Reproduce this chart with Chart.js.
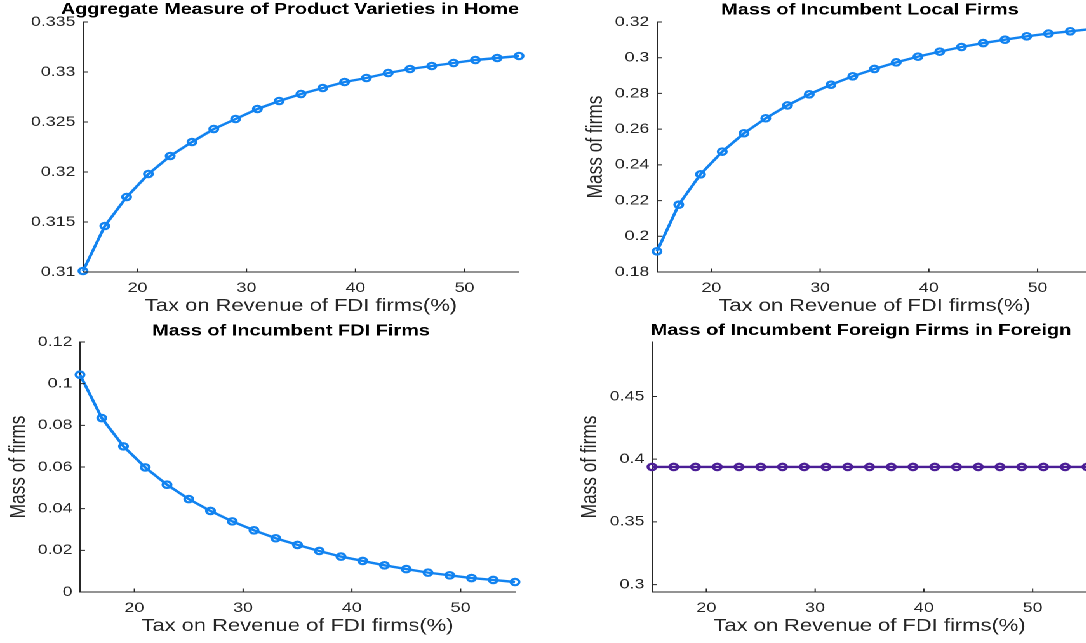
<!DOCTYPE html>
<html>
<head>
<meta charset="utf-8">
<script src="https://cdn.jsdelivr.net/npm/chart.js@4"></script>
<style>
  html, body { margin: 0; padding: 0; overflow: hidden; background: #fff; width: 1086px; height: 643px; }
  /* the reference figure was stretched sideways, so the whole stage is too */
  #stage { position: absolute; left: 0; top: 0; width: 880px; height: 643px; transform: scaleX(1.27); transform-origin: 0 0; }
  #stage canvas { position: absolute; }
</style>
</head>
<body>
<div id="stage">
  <canvas id="varieties"></canvas>
  <canvas id="local"></canvas>
  <canvas id="fdi"></canvas>
  <canvas id="foreign"></canvas>
</div>
<script>
// tax rate on FDI revenue (%)
const taxRates = [15, 17, 19, 21, 23, 25, 27, 29, 31, 33, 35, 37, 39, 41, 43, 45, 47, 49, 51, 53, 55];

const varietiesHome = [0.3101, 0.3146, 0.3175, 0.3198, 0.3216, 0.3230, 0.3243, 0.3253, 0.3263, 0.3271, 0.3278,
  0.3284, 0.3290, 0.3294, 0.3299, 0.3303, 0.3306, 0.3309, 0.3312, 0.3314, 0.3316];
const localFirms = [0.1916, 0.2177, 0.2347, 0.2474, 0.2577, 0.2661, 0.2733, 0.2795, 0.2849, 0.2896, 0.2937,
  0.2974, 0.3006, 0.3034, 0.3060, 0.3082, 0.3101, 0.3120, 0.3135, 0.3148, 0.3161];
const fdiFirms = [0.1043, 0.0835, 0.0699, 0.0598, 0.0515, 0.0446, 0.0389, 0.0339, 0.0296, 0.0258, 0.0226,
  0.0197, 0.0170, 0.0149, 0.0128, 0.0110, 0.0093, 0.0080, 0.0067, 0.0058, 0.0048];
const foreignFirms = [0.3938, 0.3938, 0.3938, 0.3938, 0.3938, 0.3938, 0.3938, 0.3938, 0.3938, 0.3938, 0.3938,
  0.3938, 0.3938, 0.3938, 0.3938, 0.3938, 0.3938, 0.3938, 0.3938, 0.3938, 0.3938];

// ticks and limits
const xTicks = [20, 30, 40, 50];
const xRange = [15, 55];
const varietiesTicks = [0.31, 0.315, 0.32, 0.325, 0.33, 0.335];
const varietiesRange = [0.31, 0.335];
const localTicks = [0.18, 0.2, 0.22, 0.24, 0.26, 0.28, 0.3, 0.32];
const localRange = [0.18, 0.32];
const fdiTicks = [0, 0.02, 0.04, 0.06, 0.08, 0.1, 0.12];
const fdiRange = [0, 0.12];
const foreignTicks = [0.3, 0.35, 0.4, 0.45];
const foreignRange = [0.2941, 0.4934];

const X_LABEL = 'Tax on Revenue of FDI firms(%)';
const Y_LABEL = 'Mass of firms';

const STRETCH = 1.27;
const AXIS = '#262626';
const TITLE_SIZE = 15.7;
const LABEL_SIZE = 17.3;
const TICK_SIZE = 14;
const BLUE = '#1283f0';
const PURPLE = '#4b1e96';

Chart.defaults.font.family = "'Liberation Sans', Arial, Helvetica, sans-serif";

// matlab style ticks that point into the plot
const innerTicks = {
  id: 'innerTicks',
  afterDatasetsDraw(chart) {
    const { ctx, chartArea: a, scales: { x, y } } = chart;
    ctx.save();
    ctx.strokeStyle = AXIS;
    ctx.lineWidth = 1;
    ctx.beginPath();
    x.ticks.forEach(t => {
      const px = x.getPixelForValue(t.value);
      ctx.moveTo(px, a.bottom);
      ctx.lineTo(px, a.bottom - 3.5);
    });
    y.ticks.forEach(t => {
      const py = y.getPixelForValue(t.value);
      ctx.moveTo(a.left, py);
      ctx.lineTo(a.left + 4, py);
    });
    ctx.stroke();
    ctx.restore();
  }
};

const fmt = v => String(Number(Number(v).toFixed(4)));

// area = [left, right, top, bottom] in screen px, canvas left is in stage px
function panel(id, o) {
  const cl = o.canvasLeft, ct = o.canvasTop, h = o.height;
  const areaL = o.area[0] / STRETCH - cl;
  const areaR = o.area[1] / STRETCH - cl;
  const titleC = o.titleX / STRETCH - cl;
  const padL = 2 * titleC - areaR;
  const w = Math.ceil(areaR + 12);
  const padR = w - areaR;
  const tLine = TITLE_SIZE * 1.2;
  const tTop = o.titleMid - ct - tLine / 2;
  const tBottom = o.area[2] - ct - tLine - tTop;
  const xAxisH = h - (o.area[3] - ct);
  const xTitlePad = h - (o.xTitleMid - ct) - LABEL_SIZE * 0.6;

  const canvas = document.getElementById(id);
  canvas.width = w;
  canvas.height = h;
  canvas.style.left = cl + 'px';
  canvas.style.top = ct + 'px';

  const yTitle = o.yTitleX == null ? { display: false } : {
    display: true, text: Y_LABEL, color: AXIS,
    font: { size: LABEL_SIZE, lineHeight: 1.2 },
    padding: { top: o.yTitleX / STRETCH - cl - padL - LABEL_SIZE * 0.6, bottom: 0 }
  };

  new Chart(canvas, {
    type: 'line',
    data: {
      datasets: [{
        data: taxRates.map((t, i) => ({ x: t, y: o.values[i] })),
        borderColor: o.color,
        borderWidth: 2.4,
        pointRadius: 3.2,
        pointBorderWidth: 2.2,
        pointBorderColor: o.color,
        pointBackgroundColor: 'rgba(0,0,0,0)',
        tension: 0,
        clip: false
      }]
    },
    options: {
      responsive: false,
      animation: false,
      devicePixelRatio: 2,
      events: [],
      layout: { autoPadding: false, padding: { left: padL, right: padR, top: 0, bottom: 0 } },
      plugins: {
        legend: { display: false },
        tooltip: { enabled: false },
        title: {
          display: true, text: o.title, color: '#000',
          font: { size: TITLE_SIZE, weight: 'bold', lineHeight: 1.2 },
          padding: { top: tTop, bottom: tBottom }
        }
      },
      scales: {
        x: {
          type: 'linear', min: xRange[0], max: xRange[1], bounds: 'data',
          grid: { display: false, drawTicks: false },
          border: { display: true, color: AXIS, width: 1 },
          ticks: { color: AXIS, font: { size: TICK_SIZE }, padding: 7.6, maxRotation: 0, autoSkip: false, callback: fmt },
          afterBuildTicks: s => { s.ticks = xTicks.map(v => ({ value: v })); },
          afterFit: s => { s.height = xAxisH; },
          title: { display: true, text: X_LABEL, color: AXIS, font: { size: LABEL_SIZE, lineHeight: 1.2 }, padding: { top: 0, bottom: xTitlePad } }
        },
        y: {
          type: 'linear', min: o.range[0], max: o.range[1], bounds: 'data',
          grid: { display: false, drawTicks: false },
          border: { display: true, color: AXIS, width: 1 },
          ticks: { color: AXIS, font: { size: TICK_SIZE }, padding: 6, autoSkip: false, callback: fmt },
          afterBuildTicks: s => { s.ticks = o.ticks.map(v => ({ value: v })); },
          afterFit: s => {
            s.width = areaL - padL;
            // the axis box is narrow here, so let its labels reach past it
            s._computeLabelArea = () => null;
          },
          title: yTitle
        }
      }
    },
    plugins: [innerTicks]
  });
}

panel('varieties', {
  canvasLeft: 0, canvasTop: 0, height: 320,
  area: [83, 519, 22, 272], titleX: 290, titleMid: 9.5, xTitleMid: 306, yTitleX: null,
  title: 'Aggregate Measure of Product Varieties in Home',
  values: varietiesHome, ticks: varietiesTicks, range: varietiesRange, color: BLUE
});
panel('local', {
  canvasLeft: 430, canvasTop: 0, height: 320,
  area: [657, 1092, 22, 272], titleX: 870, titleMid: 10, xTitleMid: 306, yTitleX: 596,
  title: 'Mass of Incumbent Local Firms',
  values: localFirms, ticks: localTicks, range: localRange, color: BLUE
});
panel('fdi', {
  canvasLeft: 0, canvasTop: 320, height: 323,
  area: [80, 515, 342, 592], titleX: 291, titleMid: 331, xTitleMid: 626, yTitleX: 19,
  title: 'Mass of Incumbent FDI Firms',
  values: fdiFirms, ticks: fdiTicks, range: fdiRange, color: BLUE
});
panel('foreign', {
  canvasLeft: 430, canvasTop: 320, height: 323,
  area: [652, 1087, 342, 592], titleX: 861, titleMid: 330.5, xTitleMid: 626, yTitleX: 590,
  title: 'Mass of Incumbent Foreign Firms in Foreign',
  values: foreignFirms, ticks: foreignTicks, range: foreignRange, color: PURPLE
});
</script>
</body>
</html>
